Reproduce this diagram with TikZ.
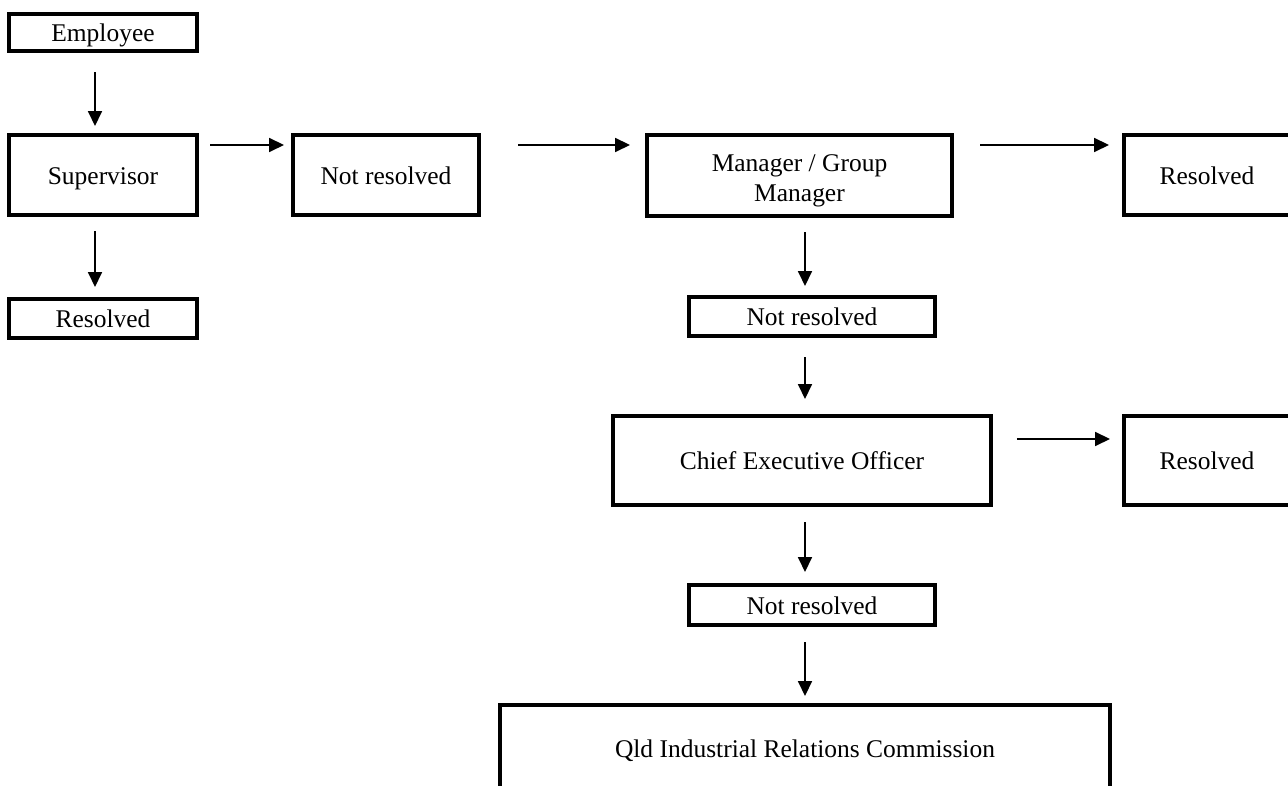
\documentclass[tikz,border=0pt]{standalone}
\usepackage{fontspec}
\setmainfont{Liberation Serif}
\usetikzlibrary{positioning, arrows.meta}

\begin{document}
\begin{tikzpicture}[x=0.02cm, y=-0.02cm, >={Triangle[length=8.5pt, width=8pt]},
        every node/.style={font=\fontsize{14.5}{17}\selectfont},
        box/.style={draw, rectangle, line width=2.3pt, inner sep=0pt, align=center},
        oneline/.style={box, text height=11.7pt, text depth=1.3pt},
        arr/.style={->, line width=0.85pt}]
      \useasboundingbox (0,0) rectangle (1288,785);
      \clip (0,0) rectangle (1288,785);

      % Left column
      \node[oneline, minimum width=3.76cm, minimum height=0.74cm] (emp) at (103,32.5) {Employee};
      \node[oneline, minimum width=3.76cm, minimum height=1.6cm] (sup) at (103,175) {Supervisor};
      \node[oneline, minimum width=3.76cm, minimum height=0.78cm] (resA) at (103,318.5) {Resolved};
      \draw[arr] ([shift={(-8,19)}]emp.south) -- ([shift={(-8,-7)}]emp.south |- sup.north);
      \draw[arr] ([shift={(-8,14)}]sup.south) -- ([shift={(-8,-10)}]sup.south |- resA.north);

      % Top row
      \node[oneline, minimum width=3.72cm, minimum height=1.6cm] (nrA) at (386,175) {Not resolved};
      \node[box, minimum width=6.1cm, minimum height=1.62cm] (mgr) at (799.5,175.5) {\rule{0pt}{16pt}Manager / Group\\Manager};
      \node[oneline, minimum width=3.32cm, minimum height=1.6cm] (resB) at (1207,175) {Resolved};
      \draw[arr] ([shift={(11,12)}]sup.north east) -- ([shift={(-7,12)}]nrA.north west);
      \draw[arr] ([shift={(37,12)}]nrA.north east) -- ([shift={(-15,12)}]nrA.north east -| mgr.west);
      \draw[arr] ([shift={(26,12)}]mgr.north east) -- ([shift={(-13,12)}]mgr.north east -| resB.west);

      % Middle column
      \node[oneline, minimum width=4.92cm, minimum height=0.78cm] (nrB) at (812,316.5) {Not resolved};
      \node[oneline, minimum width=7.56cm, minimum height=1.78cm] (ceo) at (802,460.5) {Chief Executive Officer};
      \node[oneline, minimum width=3.32cm, minimum height=1.78cm] (resC) at (1207,460.5) {Resolved};
      \node[oneline, minimum width=4.92cm, minimum height=0.8cm] (nrC) at (812,605) {Not resolved};
      \node[oneline, minimum width=12.2cm, minimum height=1.72cm] (qirc) at (805,748) {Qld Industrial Relations Commission};
      \draw[arr] ([shift={(5.5,14)}]mgr.south) -- ([shift={(5.5,-9)}]mgr.south |- nrB.north);
      \draw[arr] ([shift={(-7,19)}]nrB.south) -- ([shift={(-7,-15)}]nrB.south |- ceo.north);
      \draw[arr] ([shift={(24,25)}]ceo.north east) -- ([shift={(-12,25)}]ceo.north east -| resC.west);
      \draw[arr] ([shift={(3,15)}]ceo.south) -- ([shift={(3,-11)}]ceo.south |- nrC.north);
      \draw[arr] ([shift={(-7,15)}]nrC.south) -- ([shift={(-7,-7)}]nrC.south |- qirc.north);
\end{tikzpicture}
\end{document}
